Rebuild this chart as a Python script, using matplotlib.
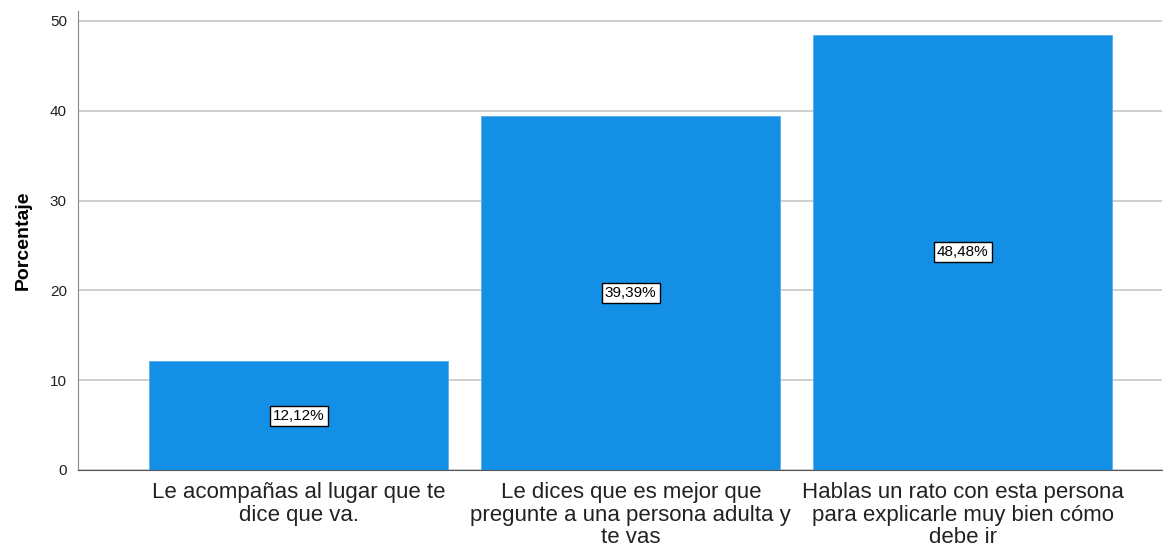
import matplotlib
matplotlib.use("Agg")
import matplotlib.pyplot as plt

categories = [
    "Le acompañas al lugar que te\ndice que va.",
    "Le dices que es mejor que\npregunte a una persona adulta y\nte vas",
    "Hablas un rato con esta persona\npara explicarle muy bien cómo\ndebe ir",
]
values = [12.12, 39.39, 48.48]
labels = ["12,12%", "39,39%", "48,48%"]
yticks = [0, 10, 20, 30, 40, 50]

plt.rcParams['font.family'] = ['Liberation Sans', 'DejaVu Sans']

fig = plt.figure(figsize=(11.68, 5.49), dpi=100)
ax = fig.add_axes([0.0668, 0.1439, 0.928, 0.836])

x = range(len(values))
ax.bar(x, values, width=0.9, color='#1390E6', edgecolor='#5aaeea', linewidth=0.6, zorder=3)

for xi, v, lab in zip(x, values, labels):
    ax.text(xi, v / 2, lab, ha='center', va='center', fontsize=11, color='black', zorder=4,
            bbox=dict(boxstyle='square,pad=0.2', facecolor='white', edgecolor='black', linewidth=1))

ax.set_xlim(-0.665, 2.6)
ax.set_ylim(0, 51.1)
ax.set_yticks(yticks)
ax.set_yticklabels([str(t) for t in yticks], fontsize=11, color='#222222')
ax.set_xticks(list(x))
ax.set_xticklabels(categories, fontsize=16, color='#222222', linespacing=1.08)
ax.tick_params(axis='both', length=0)
ax.tick_params(axis='y', pad=8)
ax.tick_params(axis='x', pad=9)
ax.yaxis.grid(True, color='#CCCCCC', linewidth=1.3, zorder=0)
ax.set_axisbelow(True)
for s in ['top', 'right']:
    ax.spines[s].set_visible(False)
ax.spines['left'].set_color('#888888')
ax.spines['bottom'].set_color('#555555')
ax.set_ylabel('Porcentaje', fontsize=14, fontweight='bold', labelpad=13)

fig.savefig('out.png', dpi=100)
